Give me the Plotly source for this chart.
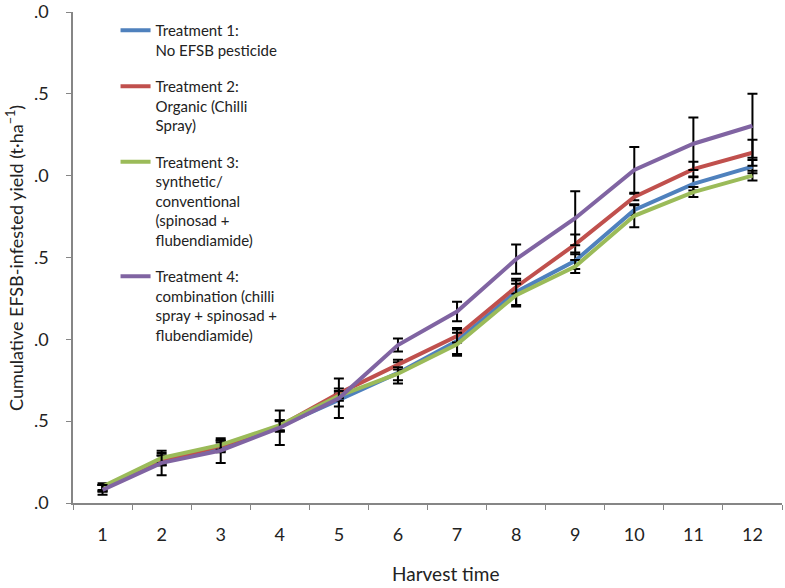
import plotly.graph_objects as go

harvest = [str(i) for i in range(1, 13)]

names = [
    "Treatment 1:<br>No EFSB pesticide",
    "Treatment 2:<br>Organic (Chilli<br>Spray)",
    "Treatment 3:<br>synthetic/<br>conventional<br>(spinosad +<br>flubendiamide)",
    "Treatment 4:<br>combination (chilli<br>spray + spinosad +<br>flubendiamide)",
]
colors = ["#4F81BD", "#C0504D", "#9BBB59", "#8064A2"]

t1 = [0.09, 0.26, 0.34, 0.47, 0.63, 0.795, 0.99, 1.29, 1.48, 1.79, 1.95, 2.055]
t2 = [0.09, 0.26, 0.35, 0.47, 0.67, 0.845, 1.02, 1.32, 1.58, 1.87, 2.04, 2.14]
t3 = [0.10, 0.275, 0.355, 0.475, 0.655, 0.79, 0.97, 1.27, 1.445, 1.755, 1.90, 2.00]
t4 = [0.08, 0.245, 0.32, 0.46, 0.64, 0.965, 1.17, 1.49, 1.74, 2.035, 2.195, 2.305]

e1 = [0.02, 0.03, 0.03, 0.035, 0.04, 0.065, 0.08, 0.08, 0.05, 0.03, 0.04, 0.04]
e2 = [0.02, 0.03, 0.03, 0.03, 0.03, 0.03, 0.04, 0.04, 0.06, 0.02, 0.045, 0.08]
e3 = [0.02, 0.03, 0.03, 0.03, 0.03, 0.04, 0.07, 0.07, 0.04, 0.07, 0.03, 0.03]
e4 = [0.03, 0.075, 0.075, 0.105, 0.12, 0.04, 0.06, 0.09, 0.165, 0.14, 0.16, 0.195]

y_ticks = [0.0, 0.5, 1.0, 1.5, 2.0, 2.5, 3.0]
y_ticktext = [".0", ".5", ".0", ".5", ".0", ".5", ".0"]

series = [t1, t2, t3, t4]
errors = [e1, e2, e3, e4]

FONT = "Lato, 'Open Sans', sans-serif"
AX = "#868686"

fig = go.Figure()
for i, (nm, col, ys, es) in enumerate(zip(names, colors, series, errors)):
    fig.add_trace(go.Scatter(
        x=harvest, y=ys, name=nm, mode="lines",
        line=dict(color=col, width=4),
        legendgroup=f"g{i}",
        error_y=dict(type="data", array=es, visible=True,
                     color="black", thickness=2, width=5),
    ))

fig.update_layout(
    width=785, height=588,
    margin=dict(l=73, r=3, t=12, b=85, autoexpand=False),
    paper_bgcolor="white", plot_bgcolor="white",
    font=dict(family=FONT, color="#222222", size=18),
    showlegend=True,
    legend=dict(
        x=0.06, y=0.996, xanchor="left", yanchor="top",
        font=dict(family=FONT, size=15, color="#222222"),
        bgcolor="rgba(0,0,0,0)", borderwidth=0,
        valign="top", tracegroupgap=14, traceorder="grouped",
        itemwidth=30,
    ),
    xaxis=dict(
        type="category", tickson="boundaries", automargin=False,
        range=[-0.5, len(harvest) - 0.5],
        showgrid=False, zeroline=False,
        showline=True, linecolor=AX, linewidth=1.5,
        ticks="outside", ticklen=5, tickcolor=AX, tickwidth=1,
        tickfont=dict(size=18),
        ticklabelstandoff=15,
    ),
    yaxis=dict(
        range=[0, 3.0], tickmode="array", tickvals=y_ticks, ticktext=y_ticktext,
        automargin=False, ticklabeloverflow="allow",
        showgrid=False, zeroline=False,
        showline=True, linecolor=AX, linewidth=1.5,
        ticks="outside", ticklen=5, tickcolor=AX, tickwidth=1,
        tickfont=dict(size=18),
        ticklabelstandoff=14,
    ),
    annotations=[
        dict(text="Harvest time", xref="paper", yref="paper",
             x=(445 - 73) / 709, y=(503 - 573) / 491, xanchor="center", yanchor="middle",
             showarrow=False, font=dict(size=19)),
        dict(text="Cumulative EFSB-infested yield (t·ha<sup>−1</sup>)", xref="paper", yref="paper",
             x=(15 - 73) / 709, y=(503 - 258) / 491, xanchor="center", yanchor="middle",
             textangle=-90, showarrow=False, font=dict(size=18)),
    ],
)

fig.write_html("out.html", config={"displayModeBar": False},
               post_script="document.body.style.margin='0';")
